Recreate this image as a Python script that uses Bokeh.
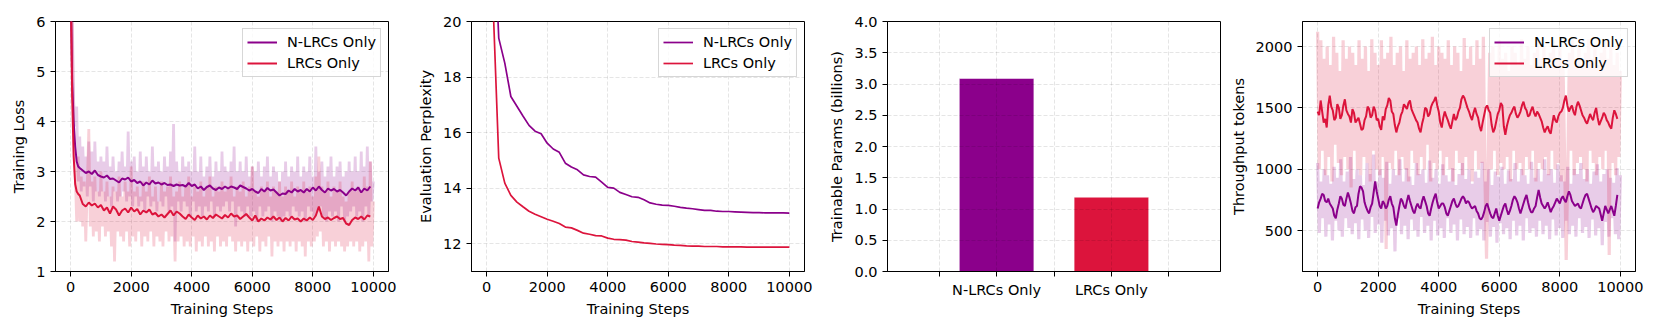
import numpy as np
from bokeh.plotting import figure
from bokeh.layouts import row
from bokeh.models import Range1d, FixedTicker, NumeralTickFormatter
from bokeh.embed import file_html
from bokeh.resources import INLINE

PURPLE = "#8B008B"
RED = "#DC143C"
SERIES = ["N-LRCs Only", "LRCs Only"]
X_TICKS = [0, 2000, 4000, 6000, 8000, 10000]

# ---------------- Panel 1: Training Loss ----------------
LOSS_SMOOTH_STEPS = [0, 50, 100, 150, 200, 250, 300] + list(range(400, 10000, 100))
LOSS_N_SMOOTH = [6.8, 4.8, 4.0, 3.5, 3.2, 3.1, 3.07,
    3.02, 2.97, 3.00, 2.95, 3.02, 2.93, 2.90, 2.88, 2.92, 2.85, 2.86, 2.82, 2.78, 2.86, 2.84, 2.88,
    2.80, 2.83, 2.77, 2.80, 2.72, 2.78, 2.74, 2.82, 2.76, 2.78, 2.74, 2.77, 2.73, 2.74, 2.71, 2.74,
    2.72, 2.73, 2.70, 2.77, 2.71, 2.74, 2.66, 2.70, 2.63, 2.69, 2.72, 2.66, 2.63, 2.68, 2.65, 2.70,
    2.66, 2.70, 2.68, 2.65, 2.72, 2.69, 2.66, 2.62, 2.65, 2.60, 2.57, 2.65, 2.60, 2.67, 2.62, 2.64,
    2.58, 2.52, 2.56, 2.55, 2.62, 2.58, 2.65, 2.60, 2.63, 2.58, 2.65, 2.60, 2.68, 2.62, 2.70, 2.63,
    2.58, 2.66, 2.62, 2.65, 2.60, 2.63, 2.58, 2.52, 2.60, 2.66, 2.62, 2.68, 2.58, 2.66, 2.62, 2.70]
LOSS_L_SMOOTH = [7.0, 4.5, 3.3, 2.75, 2.6, 2.55, 2.52,
    2.35, 2.30, 2.38, 2.32, 2.36, 2.28, 2.33, 2.22, 2.28, 2.16, 2.30, 2.24, 2.12, 2.22, 2.26, 2.18,
    2.28, 2.20, 2.25, 2.14, 2.22, 2.18, 2.24, 2.14, 2.17, 2.10, 2.14, 2.08, 2.15, 2.22, 2.12, 2.20,
    2.16, 2.10, 2.05, 2.14, 2.08, 2.03, 2.12, 2.06, 2.10, 2.04, 2.12, 2.07, 2.14, 2.10, 2.06, 2.13,
    2.08, 2.16, 2.10, 2.12, 2.05, 2.10, 2.15, 2.08, 2.02, 2.12, 2.00, 2.06, 2.02, 2.08, 2.04, 2.10,
    2.03, 2.08, 2.00, 2.07, 2.02, 2.10, 2.04, 2.06, 2.00, 2.06, 2.02, 2.08, 2.03, 2.12, 2.30, 2.10,
    2.05, 2.08, 2.03, 2.07, 2.10, 2.05, 2.07, 1.96, 1.93, 2.03, 2.08, 2.05, 2.10, 2.04, 2.12, 2.10]
LOSS_N_RAW = [10.5, 6.2, 4.4, 3.9, 4.3, 2.8, 3.7, 2.6, 3.5, 2.7, 3.3, 2.5, 3.6, 2.7, 3.4, 2.4, 3.6, 2.6, 3.2, 2.5,
    3.3, 2.6, 3.2, 2.4, 3.5, 2.5, 3.1, 2.3, 3.3, 2.6, 3.0, 2.4, 3.2, 2.5, 3.4, 2.6, 3.1, 2.4, 3.8, 2.5,
    3.2, 2.3, 3.3, 2.5, 3.0, 2.3, 3.4, 2.4, 3.1, 2.2, 3.3, 2.5, 3.0, 2.3, 3.5, 2.4, 3.1, 2.2, 3.2, 2.4,
    3.0, 2.3, 3.3, 2.5, 3.1, 2.2, 3.4, 2.3, 3.95, 1.6, 3.2, 2.4, 3.0, 2.2, 3.3, 2.4, 3.1, 2.3, 3.2, 2.1,
    3.0, 2.4, 3.5, 2.2, 3.0, 2.3, 3.3, 2.1, 2.9, 2.3, 3.1, 2.2, 3.3, 2.4, 2.9, 2.1, 3.2, 2.3, 3.0, 2.2,
    3.4, 2.3, 3.1, 2.4, 3.0, 2.2, 3.2, 2.4, 3.5, 1.9, 3.0, 2.3, 3.2, 2.2, 3.0, 2.1, 3.3, 2.3, 2.9, 2.1,
    3.1, 2.2, 3.0, 2.0, 3.2, 2.3, 2.9, 2.1, 3.1, 2.2, 3.3, 2.3, 2.9, 2.0, 3.1, 2.2, 3.0, 2.1, 2.8, 2.0,
    3.0, 2.1, 3.2, 2.2, 2.9, 2.1, 3.1, 2.3, 3.0, 2.2, 3.3, 2.1, 2.9, 2.2, 3.1, 2.0, 3.0, 2.3, 3.3, 2.2,
    2.9, 2.1, 3.5, 2.2, 3.0, 2.3, 3.2, 2.1, 2.9, 2.0, 3.1, 2.2, 3.3, 2.1, 2.9, 2.2, 3.1, 2.0, 3.2, 2.3,
    2.9, 2.0, 3.0, 2.1, 3.2, 2.2, 3.0, 2.3, 3.3, 2.1, 3.0, 2.2, 3.4, 2.0, 3.1, 2.3, 3.5, 2.1, 3.2, 2.4, 2.8]
LOSS_L_RAW = [10.8, 6.0, 3.9, 3.0, 2.0, 3.3, 2.0, 2.9, 1.9, 2.8, 1.6, 2.7, 3.85, 1.9, 2.8, 1.7, 2.9, 1.8, 2.6, 1.6,
    3.0, 1.9, 2.6, 1.7, 2.8, 1.8, 2.5, 1.5, 2.7, 1.2, 2.6, 1.8, 2.9, 1.7, 2.5, 1.6, 2.8, 1.8, 2.6, 1.5,
    3.1, 1.7, 2.6, 1.6, 2.7, 1.8, 2.5, 1.5, 2.8, 1.7, 2.6, 1.6, 2.9, 1.8, 2.5, 1.5, 2.7, 1.7, 2.4, 1.6,
    2.8, 1.5, 2.6, 1.8, 2.7, 1.6, 2.9, 1.7, 2.5, 1.2, 2.6, 1.6, 2.8, 1.7, 2.5, 1.5, 2.7, 1.6, 2.9, 1.5,
    2.5, 1.7, 2.7, 1.4, 2.6, 1.6, 2.8, 1.5, 2.5, 1.7, 2.7, 1.5, 2.9, 1.6, 2.5, 1.4, 2.7, 1.7, 2.6, 1.5,
    2.8, 1.6, 2.6, 1.5, 2.7, 1.7, 2.9, 1.6, 2.5, 1.4, 2.7, 1.6, 2.6, 1.5, 2.8, 1.6, 2.5, 1.4, 2.7, 1.6,
    3.1, 1.5, 2.6, 1.7, 2.5, 1.4, 2.7, 1.6, 2.6, 1.5, 2.8, 1.7, 2.5, 1.3, 2.7, 1.6, 2.6, 1.5, 2.8, 1.6,
    2.5, 1.4, 2.7, 1.6, 2.6, 1.5, 2.8, 1.6, 2.5, 1.4, 2.7, 1.6, 2.6, 1.5, 2.8, 1.3, 2.6, 1.6, 2.7, 1.5,
    2.5, 1.6, 2.9, 1.7, 3.3, 1.8, 2.7, 1.5, 2.6, 1.6, 2.8, 1.4, 2.5, 1.6, 2.7, 1.5, 2.6, 1.6, 2.8, 1.5,
    2.5, 1.4, 2.4, 1.5, 2.6, 1.6, 2.8, 1.5, 2.6, 1.6, 2.7, 1.4, 2.6, 1.5, 2.9, 1.6, 2.7, 1.2, 3.2, 1.5, 2.4]

# ---------------- Panel 2: Evaluation Perplexity ----------------
EVAL_STEPS = list(range(0, 10001, 200))
EVAL_N = [45.0, 24.5, 19.4, 18.5, 17.3, 16.95, 16.6, 16.26, 16.05, 15.96, 15.62, 15.41, 15.29, 14.9,
    14.76, 14.66, 14.48, 14.42, 14.40, 14.22, 14.03, 14.00, 13.85, 13.77, 13.69, 13.67, 13.58, 13.47,
    13.42, 13.39, 13.38, 13.35, 13.31, 13.28, 13.26, 13.23, 13.20, 13.20, 13.17, 13.16, 13.16, 13.15,
    13.14, 13.13, 13.12, 13.12, 13.11, 13.11, 13.11, 13.11, 13.10]
EVAL_L = [45.0, 21.0, 15.08, 14.18, 13.74, 13.50, 13.33, 13.17, 13.06, 12.97, 12.88, 12.81, 12.73, 12.60,
    12.57, 12.48, 12.38, 12.34, 12.29, 12.28, 12.20, 12.16, 12.15, 12.13, 12.08, 12.06, 12.03, 12.01,
    11.99, 11.98, 11.97, 11.95, 11.94, 11.92, 11.91, 11.91, 11.90, 11.90, 11.90, 11.89, 11.89, 11.89,
    11.89, 11.88, 11.88, 11.88, 11.88, 11.88, 11.88, 11.88, 11.88]

# ---------------- Panel 3: Trainable Params ----------------
PARAMS_B = [3.09, 1.19]
BAR_TICKS = [-0.5, 0, 0.5, 1, 1.5]

# ---------------- Panel 4: Throughput (smoothed every 50 steps, raw every ~50 steps) ----------------
TP_L_SMOOTH = [1470, 1440, 1560, 1470, 1380, 1410, 1340, 1520, 1600, 1510, 1480, 1400, 1420, 1530, 1500,
    1410, 1440, 1520, 1570, 1480, 1450, 1430, 1380, 1490, 1460, 1380, 1400, 1420, 1370, 1320, 1330, 1400,
    1430, 1510, 1490, 1420, 1440, 1510, 1480, 1400, 1410, 1350, 1320, 1430, 1400, 1490, 1520, 1580, 1560,
    1470, 1450, 1360, 1300, 1350, 1380, 1440, 1470, 1530, 1510, 1490, 1540, 1560, 1490, 1460, 1430, 1400,
    1380, 1330, 1300, 1370, 1420, 1500, 1490, 1430, 1450, 1510, 1540, 1560, 1590, 1520, 1470, 1380, 1340,
    1420, 1470, 1430, 1400, 1360, 1330, 1390, 1450, 1400, 1420, 1470, 1500, 1570, 1600, 1580, 1540, 1500,
    1470, 1430, 1400, 1460, 1500, 1450, 1420, 1350, 1310, 1380, 1440, 1500, 1520, 1480, 1460, 1360, 1300,
    1330, 1390, 1450, 1480, 1540, 1520, 1350, 1280, 1350, 1400, 1440, 1460, 1490, 1510, 1450, 1420, 1440,
    1470, 1520, 1550, 1500, 1480, 1430, 1440, 1480, 1510, 1460, 1430, 1470, 1450, 1420, 1390, 1340, 1300,
    1330, 1350, 1310, 1290, 1370, 1440, 1400, 1380, 1430, 1460, 1470, 1500, 1560, 1600, 1520, 1470, 1500,
    1520, 1470, 1440, 1510, 1550, 1520, 1480, 1440, 1420, 1390, 1370, 1410, 1450, 1420, 1400, 1460, 1500,
    1420, 1360, 1390, 1420, 1460, 1440, 1400, 1380, 1350, 1330, 1420, 1480, 1450, 1410]
TP_N_SMOOTH = [680, 730, 760, 800, 790, 740, 730, 760, 720, 700, 680, 620, 600, 670, 720, 780, 760, 710,
    700, 760, 810, 770, 720, 660, 640, 690, 700, 800, 860, 850, 820, 730, 690, 660, 640, 690, 720, 810,
    900, 820, 760, 700, 680, 740, 720, 680, 700, 750, 780, 720, 690, 600, 540, 630, 700, 760, 740, 700,
    680, 740, 790, 740, 700, 660, 640, 690, 720, 690, 680, 740, 780, 740, 700, 640, 620, 680, 730, 770,
    800, 730, 680, 700, 720, 720, 690, 640, 620, 660, 700, 740, 760, 720, 690, 700, 730, 760, 780, 760,
    720, 740, 730, 700, 680, 690, 700, 660, 640, 600, 590, 610, 650, 700, 720, 680, 640, 610, 600, 640,
    680, 620, 580, 620, 660, 700, 720, 670, 630, 660, 700, 750, 780, 760, 730, 680, 640, 680, 720, 760,
    790, 730, 680, 650, 650, 680, 700, 770, 830, 770, 720, 700, 680, 700, 730, 690, 650, 680, 700, 730,
    760, 740, 720, 760, 780, 750, 730, 780, 820, 790, 740, 720, 700, 710, 720, 690, 680, 720, 760, 790,
    800, 760, 720, 680, 650, 670, 700, 690, 680, 630, 580, 640, 700, 670, 640, 670, 700, 660, 620, 700, 790]
TP_L_RAW = [2120, 1000, 2050, 1150, 1900, 950, 2000, 1100, 1850, 900, 2080, 1200, 1950, 1050, 1800, 950, 2050, 1100, 1900, 1000,
    2000, 850, 1950, 1150, 1850, 1000, 2050, 950, 1900, 1100, 2000, 1050, 1800, 900, 2060, 1150, 1950, 1000, 1850, 950,
    2050, 1100, 1900, 350, 1950, 1050, 2080, 1000, 1850, 1150, 1950, 950, 2000, 1100, 1800, 1000, 2050, 900, 1900, 1150,
    1950, 1050, 2000, 950, 1850, 1100, 2060, 1000, 1900, 1200, 1950, 900, 2080, 1050, 1850, 1000, 2000, 1150, 1950, 950,
    1900, 1100, 2050, 1000, 1850, 900, 2000, 1150, 1950, 1050, 1800, 950, 2070, 1100, 1900, 1000, 2000, 900, 1850, 1150,
    2050, 1000, 1900, 1050, 2080, 950, 270, 1100, 1950, 1000, 2000, 1150, 1850, 950, 2050, 1050, 1900, 1000, 1950, 1100,
    1800, 900, 2000, 1150, 1950, 1000, 1850, 1050, 2060, 950, 1900, 1100, 2000, 1000, 1850, 1150, 1950, 900, 2050, 1050,
    1900, 1000, 2000, 1100, 1850, 950, 1950, 1150, 2050, 1000, 1900, 1050, 2000, 900, 1850, 1100, 260, 1000, 1950, 1150,
    2050, 950, 1900, 1050, 2000, 1100, 1850, 1000, 1950, 900, 2060, 1150, 1900, 1050, 2000, 950, 1850, 1100, 1950, 1000,
    2050, 1150, 1900, 300, 2000, 1050, 1850, 950, 1950, 1100, 1800]
TP_N_RAW = [1050, 480, 900, 600, 1000, 450, 950, 550, 880, 420, 1020, 580, 930, 500, 1080, 450, 900, 600, 980, 520,
    1100, 470, 920, 560, 1000, 430, 950, 590, 870, 500, 1050, 440, 960, 610, 1120, 480, 900, 550, 1000, 400,
    930, 580, 1060, 460, 880, 520, 1000, 330, 950, 600, 1080, 470, 900, 540, 1010, 430, 940, 590, 870, 500,
    1050, 450, 960, 610, 1000, 480, 890, 540, 1070, 420, 930, 580, 1000, 460, 880, 520, 1040, 440, 950, 600,
    900, 480, 1010, 550, 870, 420, 960, 590, 1050, 470, 920, 530, 1000, 440, 880, 600, 980, 460, 930, 510,
    1060, 420, 900, 570, 1000, 450, 870, 530, 980, 400, 940, 560, 1020, 470, 880, 520, 990, 430, 920, 580,
    1050, 460, 900, 540, 1000, 420, 950, 600, 880, 480, 1060, 520, 930, 450, 1000, 580, 900, 470, 1080, 540,
    960, 430, 1000, 590, 890, 460, 1040, 520, 950, 440, 900, 580, 1020, 470, 880, 540, 1000, 450, 960, 600,
    1050, 480, 920, 530, 1000, 440, 880, 590, 980, 460, 1040, 520, 900, 380, 960, 570, 1000, 450, 930, 600,
    890, 470, 1010, 430, 950]

FONT = "DejaVu Sans"
FS = "14.5px"


def raw_steps(vals):
    return np.linspace(0, 10000, len(vals))


def smooth_steps(vals, every=50):
    return np.arange(len(vals)) * every


def make_fig(xr, yr, left, right, xlabel, ylabel, yticks):
    p = figure(frame_width=333, frame_height=250, x_range=xr, y_range=yr,
               output_backend="svg", toolbar_location=None,
               min_border_left=left, min_border_right=right,
               min_border_top=21, min_border_bottom=55)
    p.outline_line_color = "black"
    p.outline_line_width = 1
    p.outline_line_alpha = 1
    p.background_fill_color = "white"
    p.border_fill_color = "white"
    for ax in (p.xaxis[0], p.yaxis[0]):
        ax.axis_line_color = "black"
        ax.axis_line_width = 1
        ax.major_tick_line_color = "black"
        ax.major_tick_line_width = 1
        ax.minor_tick_line_color = None
        ax.major_tick_out = 5
        ax.major_tick_in = 0
        ax.major_label_text_font = FONT
        ax.major_label_text_font_size = FS
        ax.major_label_text_color = "black"
        ax.axis_label_text_font = FONT
        ax.axis_label_text_font_size = FS
        ax.axis_label_text_font_style = "normal"
        ax.axis_label_text_color = "black"
        ax.major_label_standoff = 5
        ax.axis_label_standoff = 6
    if xlabel:
        p.xaxis.axis_label = xlabel
    p.yaxis.axis_label = ylabel
    p.yaxis.ticker = FixedTicker(ticks=yticks)
    for g in (p.xgrid[0], p.ygrid[0]):
        g.grid_line_color = "black"
        g.grid_line_alpha = 0.1
        g.grid_line_width = 1
        g.grid_line_dash = "4 2"
    return p


def style_legend(p):
    lg = p.legend[0]
    lg.location = "top_right"
    lg.margin = 7
    lg.padding = 4
    lg.spacing = 3
    lg.glyph_width = 30
    lg.glyph_height = 18
    lg.label_height = 18
    lg.label_standoff = 10
    lg.label_text_font = FONT
    lg.label_text_font_size = FS
    lg.label_text_color = "black"
    lg.border_line_color = "#cccccc"
    lg.border_line_alpha = 0.8
    lg.border_line_width = 1
    lg.background_fill_color = "white"
    lg.background_fill_alpha = 0.8


# Panel 1
p1 = make_fig(Range1d(-500, 10500), Range1d(1, 6), 55, 23, "Training Steps", "Training Loss",
              [1, 2, 3, 4, 5, 6])
p1.xaxis.ticker = FixedTicker(ticks=X_TICKS)
p1.line(raw_steps(LOSS_N_RAW), LOSS_N_RAW, line_color=PURPLE, line_alpha=0.2, line_width=2.8)
p1.line(raw_steps(LOSS_L_RAW), LOSS_L_RAW, line_color=RED, line_alpha=0.2, line_width=2.8)
p1.line(LOSS_SMOOTH_STEPS, LOSS_N_SMOOTH, line_color=PURPLE, line_width=2, legend_label=SERIES[0])
p1.line(LOSS_SMOOTH_STEPS, LOSS_L_SMOOTH, line_color=RED, line_width=2, legend_label=SERIES[1])
style_legend(p1)

# Panel 2
p2 = make_fig(Range1d(-500, 10500), Range1d(11, 20), 60, 18, "Training Steps", "Evaluation Perplexity",
              [12, 14, 16, 18, 20])
p2.xaxis.ticker = FixedTicker(ticks=X_TICKS)
p2.line(EVAL_STEPS, EVAL_N, line_color=PURPLE, line_width=1.7, legend_label=SERIES[0])
p2.line(EVAL_STEPS, EVAL_L, line_color=RED, line_width=1.7, legend_label=SERIES[1])
style_legend(p2)

# Panel 3
p3 = make_fig(Range1d(-0.95, 1.95), Range1d(0, 4), 65, 2, None, "Trainable Params (billions)",
              [0, 0.5, 1, 1.5, 2, 2.5, 3, 3.5, 4])
p3.yaxis.formatter = NumeralTickFormatter(format="0.0")
p3.xaxis.ticker = FixedTicker(ticks=BAR_TICKS)
overrides = {t: "" for t in BAR_TICKS}
for i, name in enumerate(SERIES):
    overrides[i] = name
p3.xaxis.major_label_overrides = overrides
p3.vbar(x=list(range(len(SERIES))), top=PARAMS_B, width=0.65, fill_color=[PURPLE, RED],
        line_color="white", line_width=0.8, line_alpha=0.7)
p3.xgrid.level = "overlay"
p3.ygrid.level = "overlay"

# Panel 4
p4 = make_fig(Range1d(-500, 10500), Range1d(166, 2204), 80, 18, "Training Steps", "Throughput tokens",
              [500, 1000, 1500, 2000])
p4.xaxis.ticker = FixedTicker(ticks=X_TICKS)
p4.line(raw_steps(TP_N_RAW), TP_N_RAW, line_color=PURPLE, line_alpha=0.2, line_width=3.2)
p4.line(raw_steps(TP_L_RAW), TP_L_RAW, line_color=RED, line_alpha=0.2, line_width=3.2)
p4.line(smooth_steps(TP_N_SMOOTH), TP_N_SMOOTH, line_color=PURPLE, line_width=2, legend_label=SERIES[0])
p4.line(smooth_steps(TP_L_SMOOTH), TP_L_SMOOTH, line_color=RED, line_width=2, legend_label=SERIES[1])
style_legend(p4)

layout = row(p1, p2, p3, p4, spacing=0)
open("out.html", "w").write(file_html(layout, INLINE))
